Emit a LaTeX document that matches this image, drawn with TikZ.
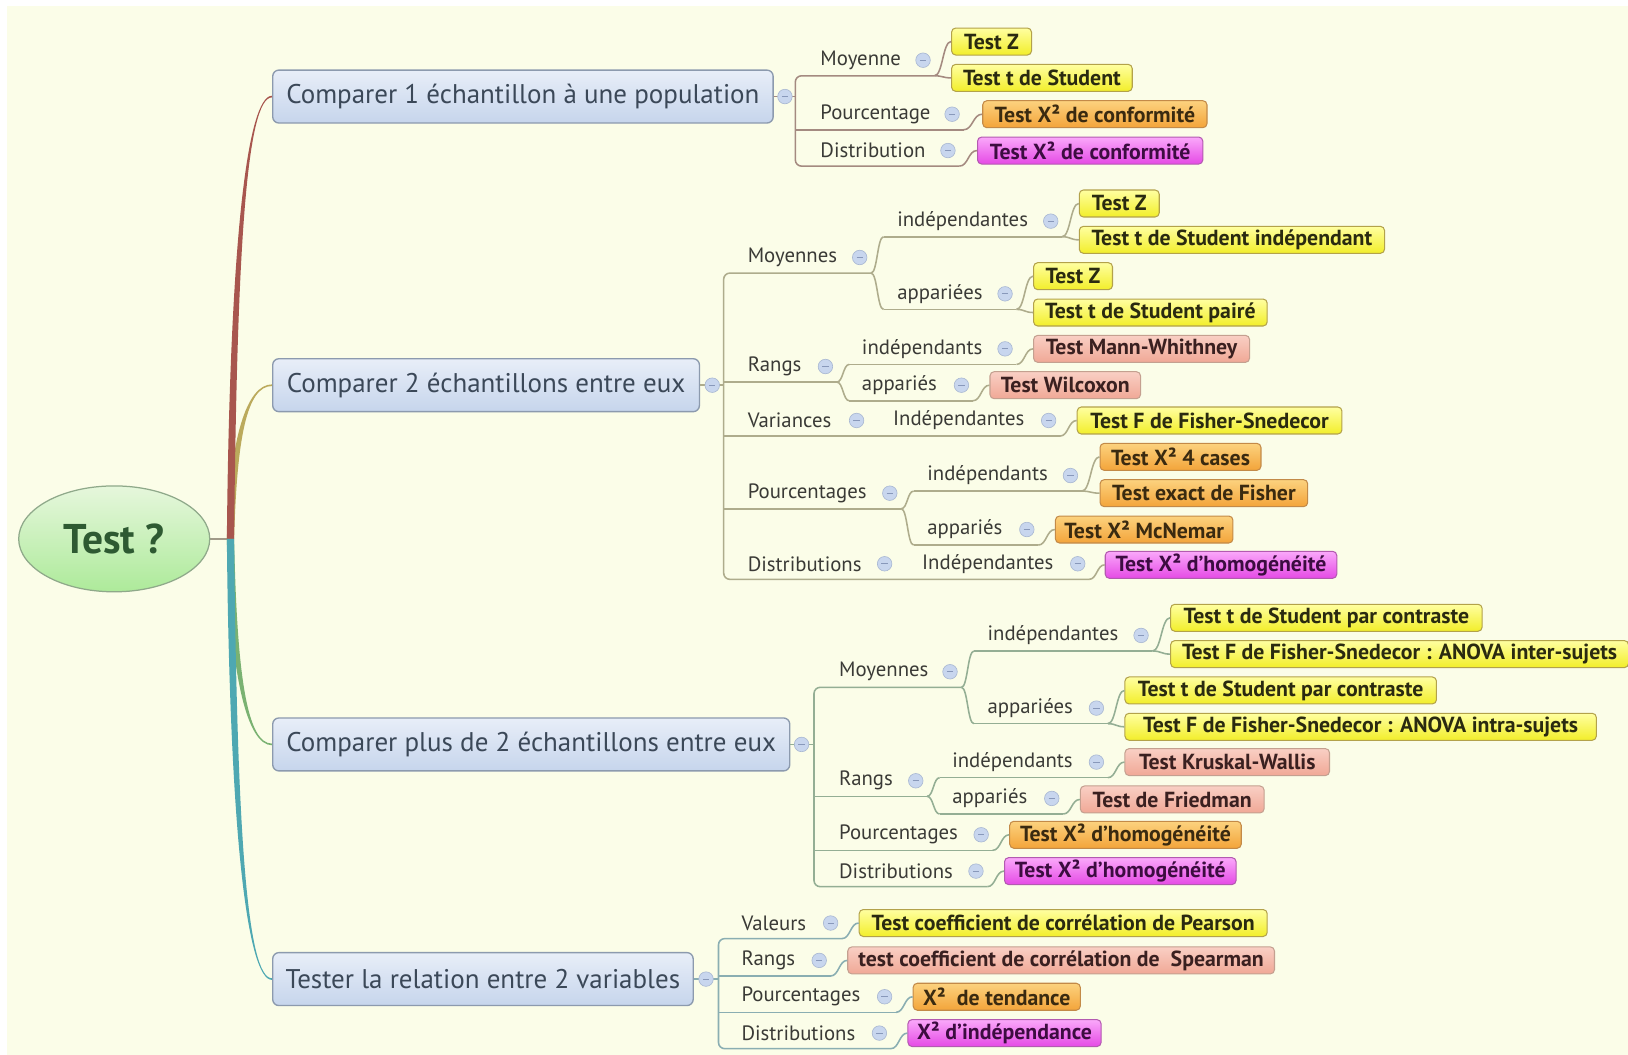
\documentclass[tikz,border=0pt]{standalone}
\usepackage{fontspec}
\setmainfont{PT Sans}
\usetikzlibrary{calc,shapes.geometric}
\definecolor{bg}{HTML}{FBFDE8}
\definecolor{topictop}{HTML}{E8EEF8}
\definecolor{topicbot}{HTML}{C6D5EC}
\definecolor{topicborder}{HTML}{8C9AAE}
\definecolor{topictext}{HTML}{3B4858}
\definecolor{roottop}{HTML}{E6F7DC}
\definecolor{rootbot}{HTML}{ADEA9A}
\definecolor{rootborder}{HTML}{8FA98A}
\definecolor{roottext}{HTML}{2E5A32}
\definecolor{lbltext}{HTML}{3A3A36}
\definecolor{yeltop}{HTML}{FFFFA0}
\definecolor{yelbot}{HTML}{F2EE2A}
\definecolor{yelborder}{HTML}{B3A24A}
\definecolor{yeltext}{HTML}{2A2A10}
\definecolor{ortop}{HTML}{FCD27E}
\definecolor{orbot}{HTML}{F3A43A}
\definecolor{orborder}{HTML}{C38A48}
\definecolor{ortext}{HTML}{3A2A10}
\definecolor{saltop}{HTML}{F9CFC4}
\definecolor{salbot}{HTML}{F0A896}
\definecolor{salborder}{HTML}{C4A090}
\definecolor{saltext}{HTML}{3A2020}
\definecolor{magtop}{HTML}{FAA8FA}
\definecolor{magbot}{HTML}{E54AE5}
\definecolor{magborder}{HTML}{B35AB0}
\definecolor{magtext}{HTML}{3C0C40}
\definecolor{minusfill}{HTML}{C8D6EE}
\definecolor{minusborder}{HTML}{A9B8D2}
\definecolor{minusline}{HTML}{8898BA}
\definecolor{bra}{HTML}{A8564E}
\definecolor{brb}{HTML}{BBAA5C}
\definecolor{brc}{HTML}{7AB272}
\definecolor{brd}{HTML}{4EA8B2}
\definecolor{lna}{HTML}{A48A80}
\definecolor{lnb}{HTML}{AEAC8C}
\definecolor{lnc}{HTML}{94AE94}
\definecolor{lnd}{HTML}{8AAEB2}
\definecolor{rootline}{HTML}{A09A88}
\pgfdeclarelayer{back}
\pgfsetlayers{back,main}
\tikzset{
  rootnode/.style={ellipse, draw=rootborder, line width=1.2pt, top color=roottop, bottom color=rootbot,
    minimum width=184pt, minimum height=102pt, inner sep=0pt, text=roottext,
    font=\bfseries\fontsize{40}{44}\selectfont},
  topic/.style={draw=topicborder, line width=1.3pt, rounded corners=6pt, top color=topictop,
    bottom color=topicbot, minimum height=51pt, anchor=west, inner xsep=6pt, inner ysep=0pt,
    text=topictext, font=\fontsize{26}{30}\selectfont},
  lbl/.style={anchor=west, inner sep=0pt, text=lbltext, font=\fontsize{20}{23}\selectfont},
  leaf/.style={draw, line width=1pt, rounded corners=4pt, minimum height=26pt, anchor=west,
    inner xsep=4pt, inner ysep=0pt, font=\bfseries\fontsize{21}{24}\selectfont},
  yel/.style={leaf, top color=yeltop, bottom color=yelbot, draw=yelborder, text=yeltext},
  ora/.style={leaf, top color=ortop, bottom color=orbot, draw=orborder, text=ortext},
  sal/.style={leaf, top color=saltop, bottom color=salbot, draw=salborder, text=saltext},
  mag/.style={leaf, top color=magtop, bottom color=magbot, draw=magborder, text=magtext},
  minus/.style={circle, draw=minusborder, fill=minusfill, line width=0.6pt, minimum size=14pt,
    inner sep=0pt, path picture={\draw[minusline, line width=1pt]
      ([xshift=-3pt]path picture bounding box.center) -- ([xshift=3pt]path picture bounding box.center);}},
  la/.style={draw=lna, line width=1.5pt},
  lb/.style={draw=lnb, line width=1.5pt},
  lc/.style={draw=lnc, line width=1.5pt},
  ld/.style={draw=lnd, line width=1.5pt},
}
\newcommand\sconn[3][]{\draw[#1] let \p1=(#2), \p2=(#3) in (\p1) .. controls ({0.5*\x1+0.5*\x2},\y1) and ({0.5*\x1+0.5*\x2},\y2) .. (\p2);}
\newcommand\mainbranch[3]{%
  \fill[#1] let \p1=(rootb), \p2=(#2.west) in
    ({\x1-3.5pt},\y1) .. controls ({\x1-0.8pt},{\y1+0.667*(\y2-\y1)}) and ({\x2-24pt},{\y2+#3*0.8pt}) .. ({\x2},{\y2+#3*0.8pt})
    -- ({\x2},{\y2-#3*0.8pt}) .. controls ({\x2-24pt},{\y2-#3*0.8pt}) and ({\x1+6.2pt},{\y1+0.667*(\y2-\y1)}) .. ({\x1+3.5pt},\y1) -- cycle;}
\begin{document}
\begin{tikzpicture}[x=1pt,y=-1pt]
\useasboundingbox (0,0) rectangle (1568,1016);

% root
\node[rootnode] (root) at (110,519) {Test ?};
\coordinate (rootb) at (222,519);

% main topics
\node[topic, minimum width=482pt] (t1) at (262,93) {Comparer 1 échantillon à une population};
\node[topic, minimum width=411pt] (t2) at (262,371) {Comparer 2 échantillons entre eux};
\node[topic, minimum width=498pt] (t3) at (262,717) {Comparer plus de 2 échantillons entre eux};
\node[topic, minimum width=405pt] (t4) at (262,943) {Tester la relation entre 2 variables};

\begin{pgfonlayer}{back}
\fill[white] (0,0) rectangle (1568,1016);
\fill[bg] (7,6) rectangle (1568,1016);
\draw[rootline, line width=2pt] (root.east) -- (rootb);
\mainbranch{brb}{t2}{1}
\mainbranch{bra}{t1}{1}
\mainbranch{brc}{t3}{-1}
\mainbranch{brd}{t4}{-1}
\end{pgfonlayer}

% ===== T1 =====
\coordinate (t1k) at (766,93);
\node[lbl] (t1a) at (790,58) {Moyenne};
\node[lbl] (t1b) at (790,110) {Pourcentage};
\node[lbl] (t1c) at (790,145) {Distribution};
\coordinate (t1ao) at (900,73);
\coordinate (t1bo) at (928,125);
\coordinate (t1co) at (924,160);
\node[yel, minimum width=77pt] (t1a1) at (916,40) {Test Z};
\node[yel, minimum width=174pt] (t1a2) at (916,75) {Test t de Student};
\node[ora, minimum width=216pt] (t1b1) at (946,110) {Test X² de conformité};
\node[mag, minimum width=217pt] (t1c1) at (941,145) {Test X² de conformité};
\draw[la] (t1.east) -- (t1k);
\draw[la, rounded corners=6pt] (t1ao) -- (t1ao -| t1k) -- (t1co -| t1k) -- (t1co);
\draw[la] (t1bo -| t1k) -- (t1bo);
\sconn[la]{t1ao}{t1a1.west}
\sconn[la]{t1ao}{t1a2.west}
\sconn[la]{t1bo}{t1b1.west}
\sconn[la]{t1co}{t1c1.west}
\node[minus] (t1m) at (756,93) {};
\node[minus] (t1am) at (889,58) {};
\node[minus] (t1bm) at (917,110) {};
\node[minus] (t1cm) at (913,145) {};

% ===== T2 =====
\coordinate (t2k) at (697,371);
\node[lbl] (t2a) at (720,248) {Moyennes};
\coordinate (t2ao) at (839,263);
\node[lbl] (t2a1) at (864,213) {indépendantes};
\coordinate (t2a1i) at (851,228);
\coordinate (t2a1o) at (1023,228);
\node[yel, minimum width=77pt] (t2a1x) at (1039,196) {Test Z};
\node[yel, minimum width=294pt] (t2a1y) at (1039,231) {Test t de Student indépendant};
\node[lbl] (t2a2) at (864,283) {appariées};
\coordinate (t2a2i) at (851,298);
\coordinate (t2a2o) at (979,298);
\node[yel, minimum width=76pt] (t2a2x) at (995,266) {Test Z};
\node[yel, minimum width=225pt] (t2a2y) at (995,301) {Test t de Student pairé};

\node[lbl] (t2b) at (720,353) {Rangs};
\coordinate (t2bo) at (806,368);
\node[lbl] (t2b1) at (830,336) {indépendants};
\coordinate (t2b1i) at (818,351);
\coordinate (t2b1o) at (979,351);
\node[sal, minimum width=208pt] (t2b1x) at (995,336) {Test Mann-Whithney};
\node[lbl] (t2b2) at (830,371) {appariés};
\coordinate (t2b2i) at (818,386);
\coordinate (t2b2o) at (937,386);
\node[sal, minimum width=145pt] (t2b2x) at (953,371) {Test Wilcoxon};

\node[lbl] (t2c) at (720,405) {Variances};
\node[lbl] (t2c1) at (860,405) {Indépendantes};
\coordinate (t2c1o) at (1021,420);
\node[yel, minimum width=255pt] (t2c1x) at (1037,405) {Test F de Fisher-Snedecor};

\node[lbl] (t2d) at (720,475) {Pourcentages};
\coordinate (t2do) at (868,490);
\node[lbl] (t2d1) at (893,458) {indépendants};
\coordinate (t2d1i) at (880,473);
\coordinate (t2d1o) at (1042,473);
\node[ora, minimum width=155pt] (t2d1x) at (1059,440) {Test X² 4 cases};
\node[ora, minimum width=200pt] (t2d1y) at (1059,475) {Test exact de Fisher};
\node[lbl] (t2d2) at (893,510) {appariés};
\coordinate (t2d2i) at (880,525);
\coordinate (t2d2o) at (1000,525);
\node[ora, minimum width=171pt] (t2d2x) at (1016,510) {Test X² McNemar};

\node[lbl] (t2e) at (720,543) {Distributions};
\node[lbl] (t2e1) at (888,543) {Indépendantes};
\coordinate (t2e1o) at (1049,558);
\node[mag, minimum width=223pt] (t2e1x) at (1064,544) {Test X² d'homogénéité};

\draw[lb] (t2.east) -- (t2k);
\draw[lb, rounded corners=6pt] (t2ao) -- (t2ao -| t2k) -- (t2e1o -| t2k) -- (t2e1o);
\draw[lb] (t2bo -| t2k) -- (t2bo);
\draw[lb] (t2c1o -| t2k) -- (t2c1o);
\draw[lb] (t2do -| t2k) -- (t2do);
\draw[lb] (t2a1i) -- (t2a1o);
\draw[lb] (t2a2i) -- (t2a2o);
\draw[lb] (t2b1i) -- (t2b1o);
\draw[lb] (t2b2i) -- (t2b2o);
\draw[lb] (t2d1i) -- (t2d1o);
\draw[lb] (t2d2i) -- (t2d2o);
\sconn[lb]{t2ao}{t2a1i}
\sconn[lb]{t2ao}{t2a2i}
\sconn[lb]{t2a1o}{t2a1x.west}
\sconn[lb]{t2a1o}{t2a1y.west}
\sconn[lb]{t2a2o}{t2a2x.west}
\sconn[lb]{t2a2o}{t2a2y.west}
\sconn[lb]{t2bo}{t2b1i}
\sconn[lb]{t2bo}{t2b2i}
\sconn[lb]{t2b1o}{t2b1x.west}
\sconn[lb]{t2b2o}{t2b2x.west}
\sconn[lb]{t2c1o}{t2c1x.west}
\sconn[lb]{t2do}{t2d1i}
\sconn[lb]{t2do}{t2d2i}
\sconn[lb]{t2d1o}{t2d1x.west}
\sconn[lb]{t2d1o}{t2d1y.west}
\sconn[lb]{t2d2o}{t2d2x.west}
\sconn[lb]{t2e1o}{t2e1x.west}
\node[minus] (t2m) at (686,371) {};
\node[minus] (t2am) at (828,248) {};
\node[minus] (t2a1m) at (1012,213) {};
\node[minus] (t2a2m) at (968,283) {};
\node[minus] (t2bm) at (795,353) {};
\node[minus] (t2b1m) at (968,336) {};
\node[minus] (t2b2m) at (926,371) {};
\node[minus] (t2cm) at (825,405) {};
\node[minus] (t2c1m) at (1010,405) {};
\node[minus] (t2dm) at (857,475) {};
\node[minus] (t2d1m) at (1031,458) {};
\node[minus] (t2d2m) at (989,510) {};
\node[minus] (t2em) at (852,543) {};
\node[minus] (t2e1m) at (1038,543) {};

% ===== T3 =====
\coordinate (t3k) at (784,717);
\node[lbl] (t3a) at (808,647) {Moyennes};
\coordinate (t3ao) at (926,662);
\node[lbl] (t3a1) at (951,612) {indépendantes};
\coordinate (t3a1i) at (938,627);
\coordinate (t3a1o) at (1110,627);
\node[yel, minimum width=300pt] (t3a1x) at (1127,595) {Test t de Student par contraste};
\node[yel, minimum width=441pt] (t3a1y) at (1127,630) {Test F de Fisher-Snedecor : ANOVA inter-sujets};
\node[lbl] (t3a2) at (951,682) {appariées};
\coordinate (t3a2i) at (938,697);
\coordinate (t3a2o) at (1067,697);
\node[yel, minimum width=300pt] (t3a2x) at (1083,665) {Test t de Student par contraste};
\node[yel, minimum width=454pt] (t3a2y) at (1083,700) {Test F de Fisher-Snedecor : ANOVA intra-sujets};

\node[lbl] (t3b) at (808,752) {Rangs};
\coordinate (t3bo) at (893,767);
\node[lbl] (t3b1) at (917,734) {indépendants};
\coordinate (t3b1i) at (905,749);
\coordinate (t3b1o) at (1067,749);
\node[sal, minimum width=197pt] (t3b1x) at (1083,734) {Test Kruskal-Wallis};
\node[lbl] (t3b2) at (917,769) {appariés};
\coordinate (t3b2i) at (905,784);
\coordinate (t3b2o) at (1024,784);
\node[sal, minimum width=177pt] (t3b2x) at (1040,770) {Test de Friedman};

\node[lbl] (t3c) at (808,804) {Pourcentages};
\coordinate (t3co) at (956,819);
\node[ora, minimum width=223pt] (t3cx) at (972,804) {Test X² d'homogénéité};
\node[lbl] (t3d) at (808,839) {Distributions};
\coordinate (t3do) at (951,854);
\node[mag, minimum width=223pt] (t3dx) at (967,839) {Test X² d'homogénéité};

\draw[lc] (t3.east) -- (t3k);
\draw[lc, rounded corners=6pt] (t3ao) -- (t3ao -| t3k) -- (t3do -| t3k) -- (t3do);
\draw[lc] (t3bo -| t3k) -- (t3bo);
\draw[lc] (t3co -| t3k) -- (t3co);
\draw[lc] (t3a1i) -- (t3a1o);
\draw[lc] (t3a2i) -- (t3a2o);
\draw[lc] (t3b1i) -- (t3b1o);
\draw[lc] (t3b2i) -- (t3b2o);
\sconn[lc]{t3ao}{t3a1i}
\sconn[lc]{t3ao}{t3a2i}
\sconn[lc]{t3a1o}{t3a1x.west}
\sconn[lc]{t3a1o}{t3a1y.west}
\sconn[lc]{t3a2o}{t3a2x.west}
\sconn[lc]{t3a2o}{t3a2y.west}
\sconn[lc]{t3bo}{t3b1i}
\sconn[lc]{t3bo}{t3b2i}
\sconn[lc]{t3b1o}{t3b1x.west}
\sconn[lc]{t3b2o}{t3b2x.west}
\sconn[lc]{t3co}{t3cx.west}
\sconn[lc]{t3do}{t3dx.west}
\node[minus] (t3m) at (772,717) {};
\node[minus] (t3am) at (915,647) {};
\node[minus] (t3a1m) at (1099,612) {};
\node[minus] (t3a2m) at (1056,682) {};
\node[minus] (t3bm) at (882,752) {};
\node[minus] (t3b1m) at (1056,734) {};
\node[minus] (t3b2m) at (1013,769) {};
\node[minus] (t3cm) at (945,804) {};
\node[minus] (t3dm) at (940,839) {};

% ===== T4 =====
\coordinate (t4k) at (692,943);
\node[lbl] (t4a) at (714,889) {Valeurs};
\coordinate (t4ao) at (811,904);
\node[yel, minimum width=393pt] (t4ax) at (827,889) {Test coefficient de corrélation de Pearson};
\node[lbl] (t4b) at (714,925) {Rangs};
\coordinate (t4bo) at (800,940);
\node[sal, minimum width=411pt] (t4bx) at (816,925) {test coefficient de corrélation de\ \ Spearman};
\node[lbl] (t4c) at (714,960) {Pourcentages};
\coordinate (t4co) at (863,975);
\node[ora, minimum width=161pt] (t4cx) at (879,960) {X²\ \ de tendance};
\node[lbl] (t4d) at (714,995) {Distributions};
\coordinate (t4do) at (858,1010);
\node[mag, minimum width=186pt] (t4dx) at (874,995) {X² d'indépendance};

\draw[ld] (t4.east) -- (t4k);
\draw[ld, rounded corners=6pt] (t4ao) -- (t4ao -| t4k) -- (t4do -| t4k) -- (t4do);
\draw[ld] (t4bo -| t4k) -- (t4bo);
\draw[ld] (t4co -| t4k) -- (t4co);
\sconn[ld]{t4ao}{t4ax.west}
\sconn[ld]{t4bo}{t4bx.west}
\sconn[ld]{t4co}{t4cx.west}
\sconn[ld]{t4do}{t4dx.west}
\node[minus] (t4m) at (680,943) {};
\node[minus] (t4am) at (800,889) {};
\node[minus] (t4bm) at (789,925) {};
\node[minus] (t4cm) at (852,960) {};
\node[minus] (t4dm) at (847,995) {};
\end{tikzpicture}
\end{document}
